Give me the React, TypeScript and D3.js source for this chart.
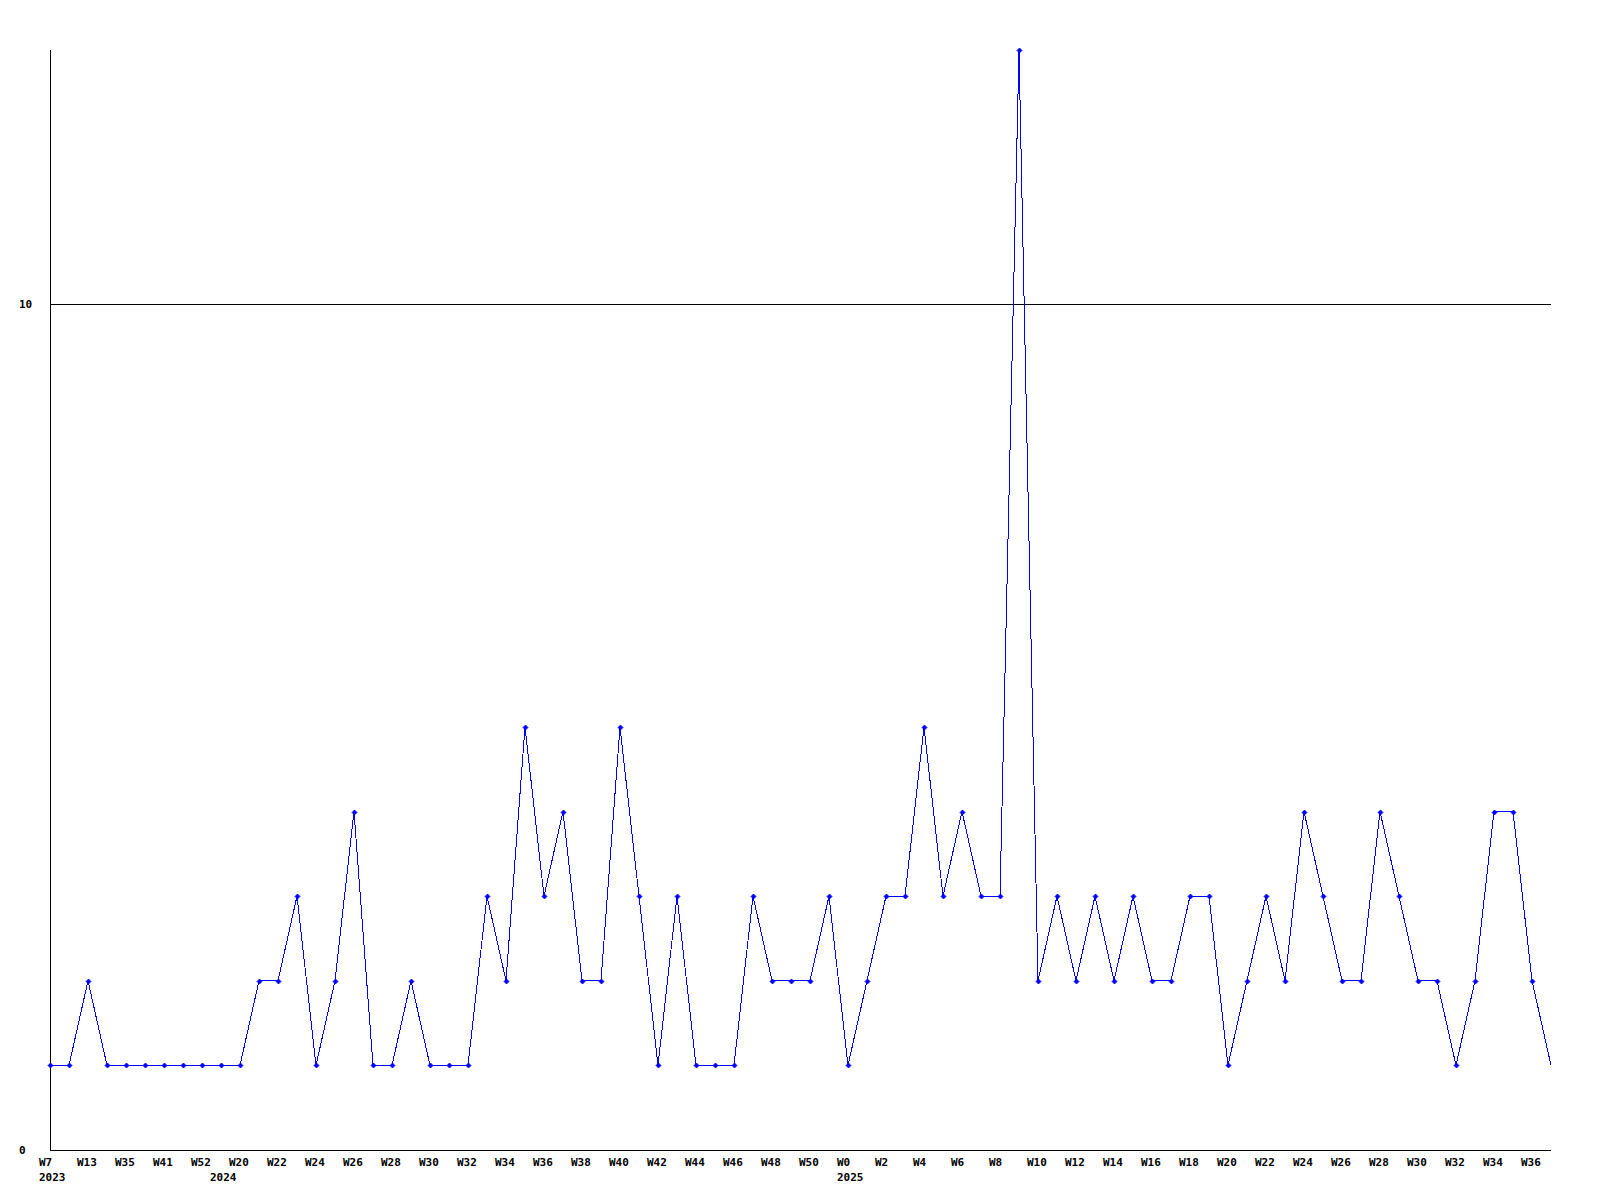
import React from "react";
import * as d3 from "d3";

const values: number[] = [
  1, 1, 2, 1, 1, 1, 1, 1, 1, 1,
  1, 2, 2, 3, 1, 2, 4, 1, 1, 2,
  1, 1, 1, 3, 2, 5, 3, 4, 2, 2,
  5, 3, 1, 3, 1, 1, 1, 3, 2, 2,
  2, 3, 1, 2, 3, 3, 5, 3, 4, 3,
  3, 13, 2, 3, 2, 3, 2, 3, 2, 2,
  3, 3, 1, 2, 3, 2, 4, 3, 2, 2,
  4, 3, 2, 2, 1, 2, 4, 4, 2, 1,
];

const weekLabels: string[] = [
  "W7", "W13", "W35", "W41", "W52", "W20", "W22", "W24", "W26", "W28",
  "W30", "W32", "W34", "W36", "W38", "W40", "W42", "W44", "W46", "W48",
  "W50", "W0", "W2", "W4", "W6", "W8", "W10", "W12", "W14", "W16",
  "W18", "W20", "W22", "W24", "W26", "W28", "W30", "W32", "W34", "W36",
];

const yearLabels: string[] = ["2023", "2024", "2025"];
const yearIndex: number[] = [0, 9, 42];

const yTicks: number[] = [0, 10];
const yMax = 13;

export default function App() {
  const W = 1600;
  const H = 1200;
  const left = 50;
  const right = 1551;
  const top = 50;
  const bottom = 1150;

  const x = d3.scaleLinear().domain([0, values.length - 1]).range([left, right]);
  const y = d3.scaleLinear().domain([0, yMax]).range([bottom, top]);

  const line = d3
    .line<number>()
    .x((_, i) => x(i))
    .y((d) => y(d));

  const font = "'DejaVu Sans Mono', monospace";
  const blue = "#0000ff";

  return (
    <svg
      width={W}
      height={H}
      style={{ position: "absolute", left: 0, top: 0, background: "#fff" }}
    >
      <rect x={0} y={0} width={W} height={H} fill="#fff" />
      <line
        x1={left}
        x2={right}
        y1={Math.round(y(10)) + 0.5}
        y2={Math.round(y(10)) + 0.5}
        stroke="#000"
        strokeWidth={1}
        shapeRendering="crispEdges"
      />
      <line
        x1={left + 0.5}
        x2={left + 0.5}
        y1={top}
        y2={bottom}
        stroke="#000"
        strokeWidth={1}
        shapeRendering="crispEdges"
      />
      <line
        x1={left}
        x2={right}
        y1={bottom + 0.5}
        y2={bottom + 0.5}
        stroke="#000"
        strokeWidth={1}
        shapeRendering="crispEdges"
      />
      {yTicks.map((t) => (
        <text
          key={t}
          x={19}
          y={y(t) + 4}
          fontFamily={font}
          fontWeight="bold"
          fontSize={11}
          fill="#000"
        >
          {t}
        </text>
      ))}
      {weekLabels.map((lab, j) => (
        <text
          key={"w" + j}
          x={x(j * 2) - 11}
          y={1166}
          fontFamily={font}
          fontWeight="bold"
          fontSize={11}
          fill="#000"
        >
          {lab}
        </text>
      ))}
      {yearLabels.map((lab, j) => (
        <text
          key={"y" + j}
          x={x(yearIndex[j]) - 11}
          y={1181}
          fontFamily={font}
          fontWeight="bold"
          fontSize={11}
          fill="#000"
        >
          {lab}
        </text>
      ))}
      <path
        d={line(values) || ""}
        fill="none"
        stroke={blue}
        strokeWidth={1}
        shapeRendering="crispEdges"
      />
      {values.slice(0, values.length - 1).map((v, i) => {
        const cx = Math.round(x(i)) + 0.5;
        const cy = Math.round(y(v)) + 0.5;
        return (
          <path
            key={"m" + i}
            d={`M${cx - 2.5},${cy} L${cx},${cy - 2.5} L${cx + 2.5},${cy} L${cx},${cy + 2.5} Z`}
            fill={blue}
            stroke={blue}
            strokeWidth={0.8}
          />
        );
      })}
    </svg>
  );
}
